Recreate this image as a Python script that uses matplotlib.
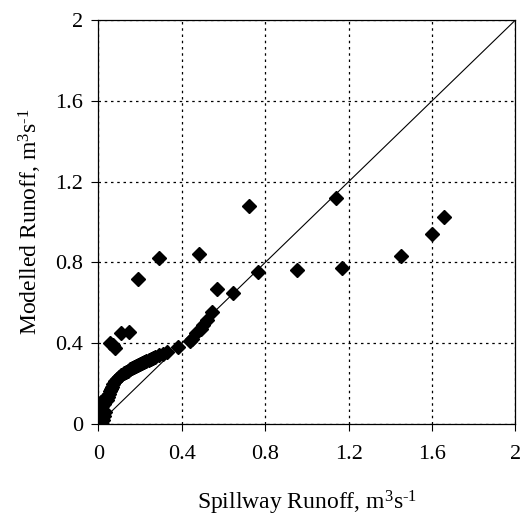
import matplotlib
matplotlib.use("Agg")
import matplotlib.pyplot as plt

plt.rcParams["font.family"] = ["Liberation Serif", "DejaVu Serif"]
plt.rcParams["mathtext.fontset"] = "custom"
plt.rcParams["mathtext.rm"] = "Liberation Serif"
plt.rcParams["mathtext.it"] = "Liberation Serif:italic"

# points clustered at the origin
cluster_x = [0.005, 0.01, 0.012, 0.015, 0.02, 0.008, 0.018, 0.025, 0.03, 0.01, 0.02, 0.028, 0.035, 0.015]
cluster_y = [0.0, 0.01, 0.03, 0.05, 0.02, 0.07, 0.09, 0.04, 0.06, 0.11, 0.12, 0.10, 0.13, 0.0]

# dense curve of low flows
curve_x = [0.04, 0.045, 0.05, 0.055, 0.06, 0.065, 0.07, 0.08, 0.09, 0.10, 0.11, 0.12, 0.13,
           0.14, 0.15, 0.16, 0.17, 0.18, 0.19, 0.20, 0.21, 0.22, 0.23, 0.24, 0.25, 0.26,
           0.27, 0.29, 0.31, 0.33, 0.38, 0.44, 0.45, 0.47, 0.49, 0.50, 0.52, 0.545]
curve_y = [0.12, 0.135, 0.15, 0.165, 0.175, 0.185, 0.20, 0.215, 0.225, 0.235, 0.243, 0.25, 0.257,
           0.264, 0.27, 0.276, 0.282, 0.288, 0.293, 0.298, 0.303, 0.308, 0.313, 0.318, 0.322, 0.327,
           0.332, 0.34, 0.348, 0.355, 0.38, 0.41, 0.42, 0.45, 0.47, 0.49, 0.515, 0.555]

# scattered events
scatter_x = [0.055, 0.08, 0.07, 0.11, 0.145, 0.19, 0.29, 0.48, 0.57, 0.645, 0.72, 0.765,
             0.95, 1.14, 1.17, 1.45, 1.60, 1.655]
scatter_y = [0.40, 0.375, 0.39, 0.45, 0.455, 0.72, 0.82, 0.84, 0.67, 0.65, 1.08, 0.75,
             0.76, 1.12, 0.77, 0.83, 0.94, 1.025]

ticks = [0, 0.4, 0.8, 1.2, 1.6, 2]
tick_labels = ["0", "0.4", "0.8", "1.2", "1.6", "2"]

fig = plt.figure(figsize=(5.25, 5.29), dpi=100)
ax = fig.add_axes([0.1876, 0.1985, 0.7943, 0.7637])

ax.plot([0, 2], [0, 2], color="black", linewidth=0.8, zorder=2)
for xs, ys in [(cluster_x, cluster_y), (curve_x, curve_y), (scatter_x, scatter_y)]:
    ax.plot(xs, ys, linestyle="none", marker="D", markersize=7, color="black", zorder=3)

ax.set_xlim(0, 2)
ax.set_ylim(0, 2)
ax.set_xticks(ticks)
ax.set_xticklabels(tick_labels)
ax.set_yticks(ticks)
ax.set_yticklabels(tick_labels)
ax.grid(True, color="black", linestyle=(0, (2, 3)), linewidth=0.9)
ax.tick_params(direction="out", length=5, width=0.8, labelsize=16)
ax.tick_params(axis="x", pad=10)
ax.tick_params(axis="y", pad=6)
for s in ax.spines.values():
    s.set_linewidth(0.9)

ax.set_xlabel(r"Spillway Runoff, m$^3$s$^{\text{-}1}$", fontsize=17, labelpad=18)
ax.set_ylabel(r"Modelled Runoff, m$^3$s$^{\text{-}1}$", fontsize=17, labelpad=8)

fig.savefig("out.png", dpi=100)
